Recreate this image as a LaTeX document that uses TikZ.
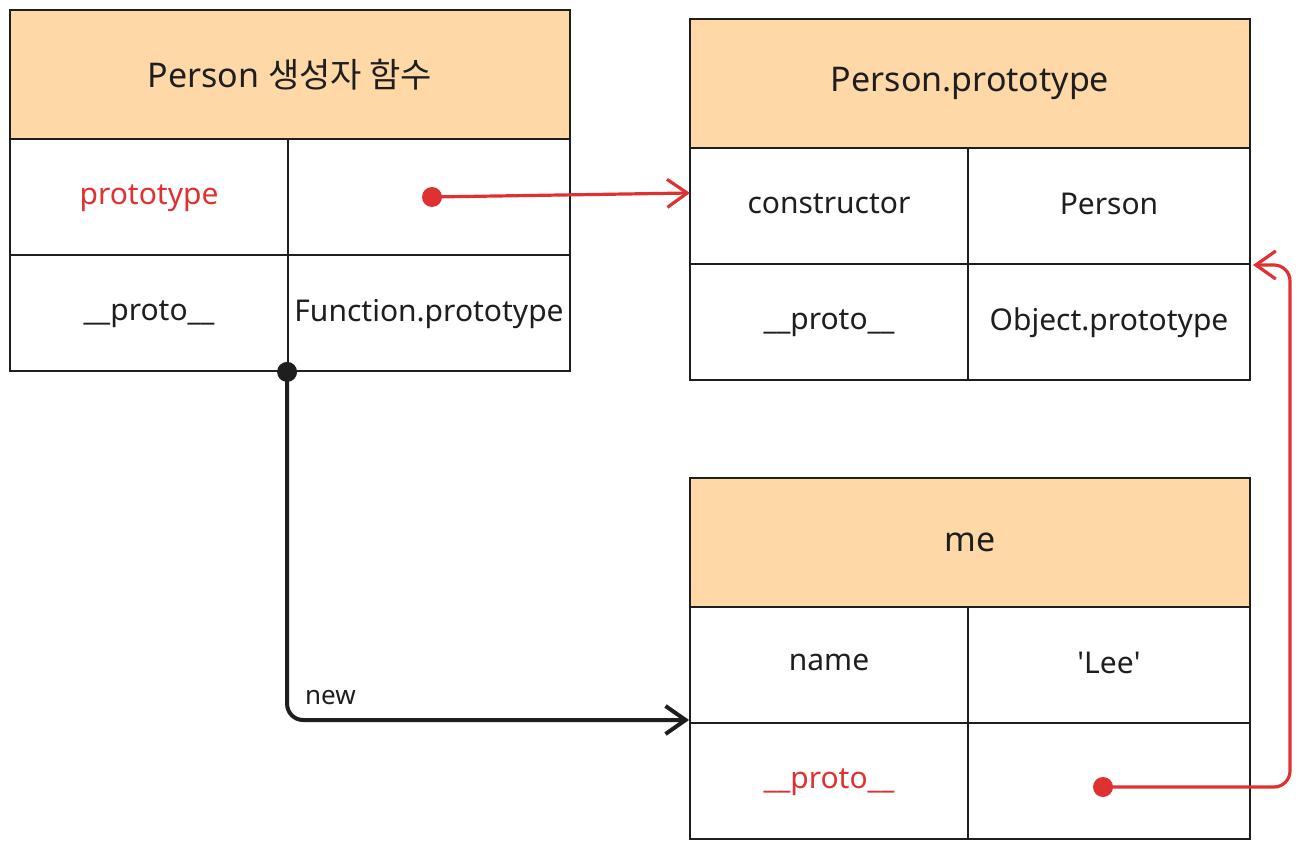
\documentclass[tikz,border=0pt]{standalone}
\usepackage{fontspec}
\setmainfont{Noto Sans}
\newfontfamily\kr{Noto Sans CJK KR}
\usetikzlibrary{arrows.meta}

\definecolor{ink}{HTML}{1E1E1E}
\definecolor{peach}{HTML}{FFD8A8}
\definecolor{redc}{HTML}{E03131}

\begin{document}
\begin{tikzpicture}[x=0.5pt, y=-0.5pt,
  hd/.style={draw=ink, fill=peach, line width=0.9pt, minimum width=280pt, minimum height=64.5pt,
             inner sep=0pt, text=ink, font=\fontsize{17}{20}\selectfont},
  key/.style={draw=ink, line width=0.9pt, minimum width=139pt, minimum height=58pt,
              inner sep=0pt, text=ink, text depth=0.5ex, font=\fontsize{15}{18}\selectfont},
  val/.style={key, minimum width=141pt},
  dot/.style={circle, fill=#1, inner sep=0pt, minimum size=10pt},
  arr/.style={-{Straight Barb[length=10pt, width=14pt]}, line width=2pt, rounded corners=8pt},
  lbl/.style={text=ink, font=\fontsize{13}{15}\selectfont}]
\useasboundingbox (0,0) rectangle (1301,850);

% ---------- Person constructor ----------
\node[hd]                  (fn-h) at (290, 74.5) {Person {\kr 생성자 함수}};
\node[key, text=redc]      (fn-p) at (149, 197) {prototype};
\node[val]                 (fn-pv) at (429, 197) {};
\node[key]                 (fn-q) at (149, 313) {\_\_proto\_\_};
\node[val]                 (fn-qv) at (429, 313) {Function.prototype};

% ---------- Person.prototype ----------
\node[hd]                  (pp-h) at (970, 83.5) {Person.prototype};
\node[key]                 (pp-c) at (829, 206) {constructor};
\node[val]                 (pp-cv) at (1109, 206) {Person};
\node[key]                 (pp-q) at (829, 322) {\_\_proto\_\_};
\node[val]                 (pp-qv) at (1109, 322) {Object.prototype};

% ---------- me ----------
\node[hd]                  (me-h) at (970, 542.5) {me};
\node[key]                 (me-n) at (829, 665) {name};
\node[val]                 (me-nv) at (1109, 665) {\textquotesingle Lee\textquotesingle};
\node[key, text=redc]      (me-q) at (829, 781) {\_\_proto\_\_};
\node[val]                 (me-qv) at (1109, 781) {};

% ---------- links ----------
\node[dot=redc]            (pdot) at (432, 197) {};
\node[dot=ink]             (fdot) at (fn-qv.south west) {};
\node[dot=redc]            (mdot) at (1103, 787) {};
\coordinate                (ptin) at (690, 193);
\coordinate                (mein) at (689, 720);
\coordinate                (opin) at (1253, 265);

\draw[arr, redc, line width=1.6pt] (pdot.center) -- (ptin);
\draw[arr, ink] (fdot.center) |- (mein);
\node[lbl, anchor=south west] (new) at (298, 712) {new};
\draw[arr, redc, line width=1.6pt] (mdot.center) -- ++(187, 0) |- (opin);
\end{tikzpicture}
\end{document}
